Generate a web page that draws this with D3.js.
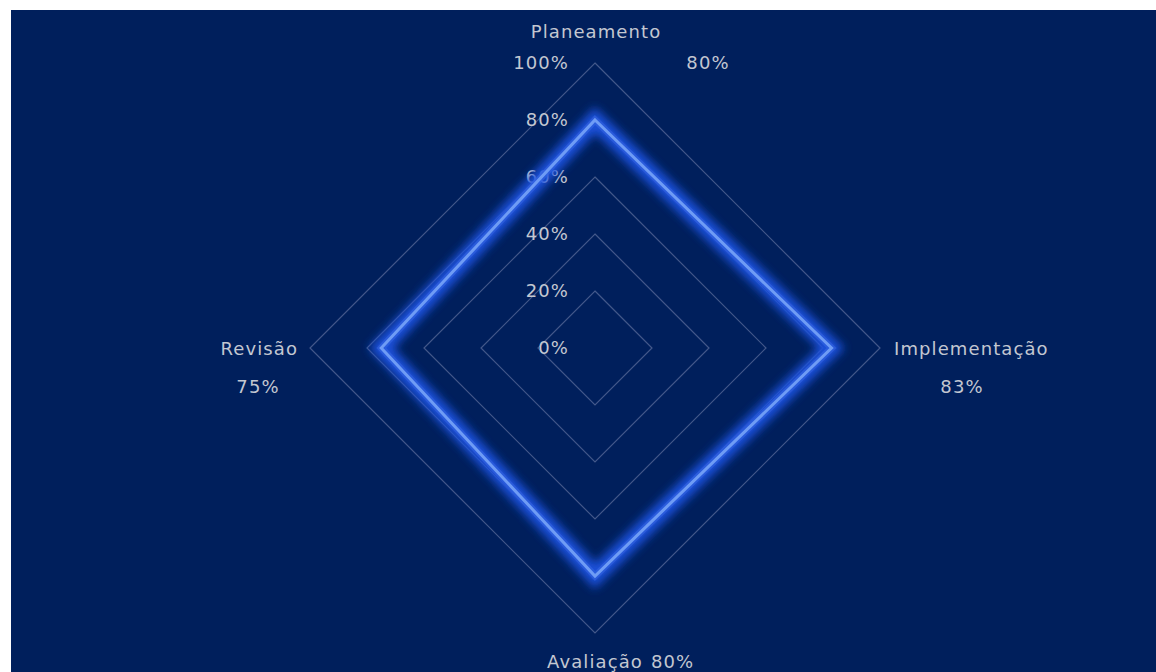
<!DOCTYPE html>
<html>
<head>
<meta charset="utf-8">
<script src="https://cdn.jsdelivr.net/npm/d3@7"></script>
<style>
  html, body { margin: 0; padding: 0; background: #ffffff; }
  svg { display: block; }
  text { font-family: "DejaVu Sans", sans-serif; font-size: 18px; fill: #c3c7d1; letter-spacing: 1.1px; }
</style>
</head>
<body>
<svg id="chart" width="1156" height="672"></svg>
<script>
// categories clockwise from the top
const categories = ['Planeamento', 'Implementação', 'Avaliação', 'Revisão'];
const values = [0.80, 0.83, 0.80, 0.75];
const ringTicks = [0, 0.2, 0.4, 0.6, 0.8, 1.0];

const W = 1156, H = 672;
const cx = 595, cy = 348, R = 285;

const svg = d3.select('#chart');

// background panel (screenshot is cropped: white strip top/left)
svg.append('rect')
    .attr('x', 11).attr('y', 10)
    .attr('width', W - 11).attr('height', H - 10)
    .attr('fill', '#001f5c');

const defs = svg.append('defs');
const glow = defs.append('filter').attr('id', 'glow')
    .attr('x', '-20%').attr('y', '-20%').attr('width', '140%').attr('height', '140%');
glow.append('feGaussianBlur').attr('stdDeviation', 5);

const r = d3.scaleLinear().domain([0, 1]).range([0, R]);
const angle = d3.scaleLinear().domain([0, categories.length]).range([0, 2 * Math.PI]);

const pt = (i, v) => [cx + r(v) * Math.sin(angle(i)), cy - r(v) * Math.cos(angle(i))];

const g = svg.append('g');

// diamond grid rings
const ringLine = d3.line().curve(d3.curveLinearClosed);
g.selectAll('.ring')
    .data(ringTicks.filter(t => t > 0))
    .enter().append('path')
    .attr('d', t => ringLine(categories.map((c, i) => pt(i, t))))
    .attr('fill', 'none')
    .attr('stroke', '#43588a')
    .attr('stroke-width', 1.2);

// ring tick labels
g.selectAll('.tick')
    .data(ringTicks)
    .enter().append('text')
    .attr('x', cx - 26)
    .attr('y', t => cy - r(t))
    .attr('dy', '0.35em')
    .attr('text-anchor', 'end')
    .text(d3.format('.0%'));

// series line with glow
const series = categories.map((c, i) => pt(i, values[i]));
g.append('path')
    .attr('d', ringLine(series))
    .attr('fill', 'none')
    .attr('stroke', '#1f52e0')
    .attr('stroke-width', 18)
    .attr('stroke-linejoin', 'miter')
    .attr('opacity', 0.95)
    .attr('filter', 'url(#glow)');
g.append('path')
    .attr('d', ringLine(series))
    .attr('fill', 'none')
    .attr('stroke', '#3565e2')
    .attr('stroke-width', 7)
    .attr('stroke-linejoin', 'miter')
    .attr('opacity', 0.6);
g.append('path')
    .attr('d', ringLine(series))
    .attr('fill', 'none')
    .attr('stroke', '#6f9cf5')
    .attr('stroke-width', 3)
    .attr('stroke-linejoin', 'miter');

// category labels: offsets from the outer ring tip
const catPos = [
    { dx: 1, dy: -31, anchor: 'middle' },
    { dx: 14, dy: 1, anchor: 'start' },
    { dx: 0, dy: 29, anchor: 'middle' },
    { dx: -12, dy: 1, anchor: 'end' }
];
// data labels: offsets from the outer ring tip
const valPos = [
    { dx: 113, dy: 0, anchor: 'middle' },
    { dx: 82, dy: 39, anchor: 'middle' },
    { dx: 56, dy: 29, anchor: 'start' },
    { dx: -52, dy: 39, anchor: 'middle' }
];

categories.forEach((c, i) => {
    const [x, y] = pt(i, 1);
    g.append('text')
        .attr('x', x + catPos[i].dx)
        .attr('y', y + catPos[i].dy)
        .attr('dy', '0.35em')
        .attr('text-anchor', catPos[i].anchor)
        .text(c);
    g.append('text')
        .attr('x', x + valPos[i].dx)
        .attr('y', y + valPos[i].dy)
        .attr('dy', '0.35em')
        .attr('text-anchor', valPos[i].anchor)
        .text(d3.format('.0%')(values[i]));
});
</script>
</body>
</html>
